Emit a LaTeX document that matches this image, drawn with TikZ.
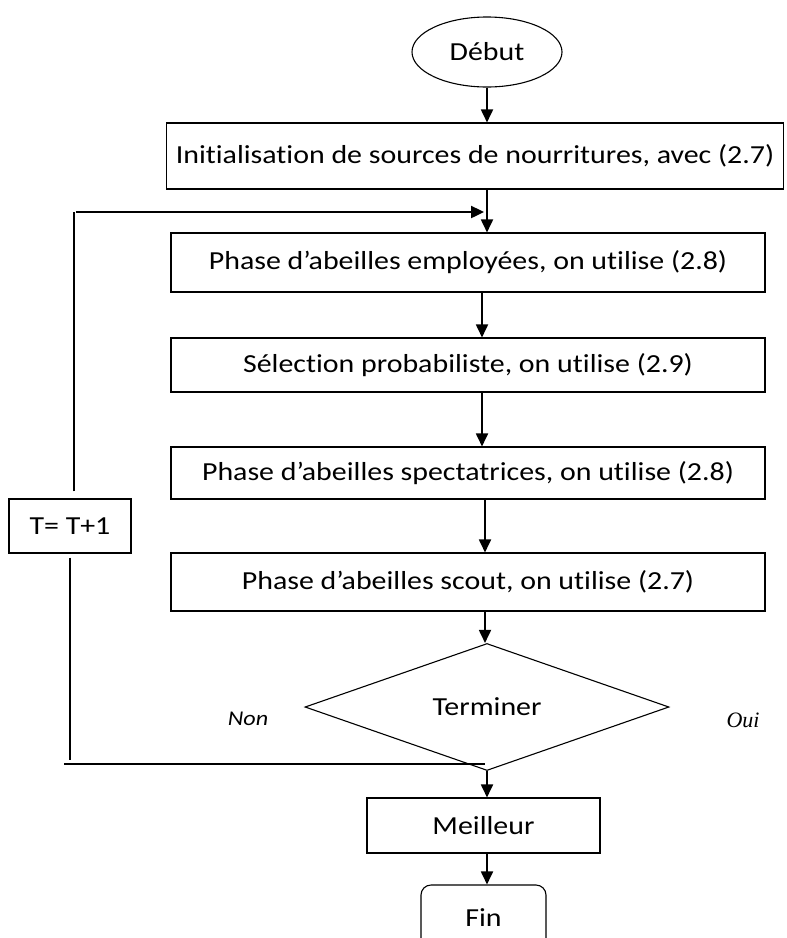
\documentclass[tikz,border=0pt]{standalone}
\usepackage{fontspec}
\usepackage{tikz}
\usetikzlibrary{shapes.geometric,arrows.meta}
\setmainfont{Carlito}[FakeStretch=1.15, Ligatures={NoCommon}]
\newfontfamily\ouifont{Liberation Serif}
\definecolor{trait}{RGB}{0, 0, 0}

\begin{document}
\begin{tikzpicture}[x=1pt, y=-1pt,
    font=\fontsize{26}{31}\selectfont,
    boite/.style={draw=trait, line width=1.1pt, inner sep=0pt},
    fleche/.style={-{Triangle[length=13pt,width=12pt]}, line width=1.8pt},
    boucle/.style={line width=1.4pt}]
        \clip (0,0) rectangle (787,938);
        % 节点
        \node[boite, ellipse, minimum width=150pt, minimum height=70pt] (debut) at (487,52) {Début};
        \node[boite, minimum width=617pt, minimum height=66pt] (init) at (475,156) {Initialisation de sources de nourritures, avec (2.7)};
        \node[boite, minimum width=594pt, minimum height=59pt] (emp) at (468,262.5) {Phase d’abeilles employées, on utilise (2.8)};
        \node[boite, minimum width=594pt, minimum height=54pt] (sel) at (468,365) {Sélection probabiliste, on utilise (2.9)};
        \node[boite, minimum width=594pt, minimum height=52pt] (spec) at (468,473) {Phase d’abeilles spectatrices, on utilise (2.8)};
        \node[boite, minimum width=594pt, minimum height=58pt] (scout) at (468,582) {Phase d’abeilles scout, on utilise (2.7)};
        \node[boite, diamond, minimum width=364pt, minimum height=99pt] (term) at (487,707) {Terminer};
        \node[boite, minimum width=233pt, minimum height=55pt] (best) at (483.5,825.5) {Meilleur};
        \node[boite, rounded corners=10pt, minimum width=125pt, minimum height=66pt] (fin) at (483.5,918) {Fin};
        \node[boite, minimum width=122pt, minimum height=54pt] (incr) at (70,526) {T= T+1};
        \node[font=\fontsize{21}{24}\selectfont\itshape] (non) at (248,719) {Non};
        \node[font=\fontsize{22}{25}\selectfont\ouifont\itshape] (oui) at (743,720) {Oui};
        % 箭头
        \draw[fleche] (debut.south) -- (debut.south |- init.north);
        \draw[fleche] (debut.south |- init.south) -- (debut.south |- emp.north);
        \foreach \a/\b/\x in {emp/sel/482, sel/spec/482, spec/scout/485, scout/term/485} {
            \coordinate (c\a) at (\x,0);
            \draw[fleche] (\a.south -| c\a) -- (\b.north -| c\a);
        }
        \draw[fleche] (term.south) -- (term.south |- best.north);
        \draw[fleche] (term.south |- best.south) -- (term.south |- fin.north);
        % 循环
        \coordinate (hg) at (76,212);
        \coordinate (hd) at (484,212);
        \coordinate (bg) at (64,764);
        \coordinate (bd) at (485,764);
        \draw[boucle] (incr.north) ++(4,-7) coordinate (ih) -- (ih |- hg);
        \draw[fleche, line width=2.4pt] (hg) -- (hd);
        \draw[boucle] (incr.south) ++(0,4) coordinate (ib) -- (70,760) coordinate (ibas);
        \draw[boucle] (bg) -- (bd);
    \end{tikzpicture}
\end{document}
